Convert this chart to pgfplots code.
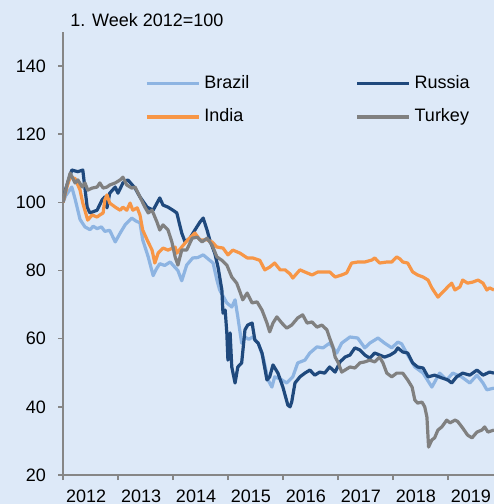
\documentclass[border=0pt]{standalone}
\usepackage{pgfplots}
\pgfplotsset{compat=1.18}
\usepackage{fontspec}
\setmainfont{Liberation Sans}

\definecolor{bgcol}{RGB}{221,233,248}
\definecolor{brazil}{RGB}{141,180,226}
\definecolor{russia}{RGB}{31,73,125}
\definecolor{india}{RGB}{247,150,70}
\definecolor{turkey}{RGB}{128,128,128}
\definecolor{axcol}{RGB}{134,134,134}

\begin{document}
\begin{tikzpicture}
\fill[bgcol] (-31.5pt,-14.5pt) rectangle (215.5pt,237.5pt);
\useasboundingbox (-31.5pt,-14.5pt) rectangle (215.5pt,237.5pt);
\begin{axis}[
    at={(0,0)}, anchor=south west,
    scale only axis, width=215.5pt, height=221.5pt,
    xmin=2012, xmax=2019.84, ymin=20, ymax=150,
    axis lines*=left,
    axis line style={axcol, line width=0.75pt},
    every tick/.style={axcol, line width=0.75pt},
    tick align=outside, major tick length=2.5pt,
    xtick={2012,...,2019}, ytick={20,40,...,140},
    xticklabel style={anchor=north west, xshift=-2pt, yshift=-1.5pt},
    yticklabel style={xshift=-2.5pt},
    x tick label style={/pgf/number format/.cd, set thousands separator={}, 1000 sep={}},
    /pgf/number format/assume math mode=true,
    tick label style={font=\fontsize{9}{11}\selectfont},
    every axis plot/.append style={line width=1.6pt, line join=round},
    legend style={draw=none, fill=none, at={(axis description cs:0.176,0.92)}, anchor=north west,
        font=\fontsize{9}{11}\selectfont, row sep=4.5pt,
        /tikz/every even column/.append style={column sep=51pt}},
    legend columns=2, legend cell align=left,
    legend image code/.code={\draw[#1] (0pt,0pt) -- (26pt,0pt);},
]
\addplot[brazil] coordinates {
(2012.00,100) (2012.05,102) (2012.16,104.5) (2012.22,101) (2012.31,95) (2012.40,92.8)
(2012.49,92) (2012.55,93) (2012.62,92.3) (2012.70,92.8) (2012.76,91.5) (2012.85,91.8)
(2012.95,88.4) (2013.04,91) (2013.13,93.4) (2013.25,95.4) (2013.33,94.5) (2013.40,94)
(2013.45,89) (2013.55,84) (2013.64,78.5) (2013.70,80.5) (2013.76,82) (2013.85,81.5)
(2013.95,82.5) (2014.09,80) (2014.16,77) (2014.25,81.6) (2014.36,83.7) (2014.45,83.8)
(2014.55,84.6) (2014.67,83) (2014.73,82.2) (2014.80,77.2) (2014.85,74.3) (2014.98,70.5)
(2015.07,69.3) (2015.13,71.4) (2015.18,66.4) (2015.25,58.7) (2015.31,60.5) (2015.38,59.8)
(2015.45,60.5) (2015.55,58.7) (2015.64,54.6) (2015.73,47.9) (2015.80,45.8) (2015.85,48.8)
(2015.95,48.2) (2016.07,47) (2016.18,48.8) (2016.27,52.9) (2016.40,53.7) (2016.49,55.8)
(2016.62,57.6) (2016.73,57.3) (2016.85,58.7) (2016.98,55.8) (2017.07,58.7) (2017.22,60.5)
(2017.36,60.2) (2017.49,57.3) (2017.58,58.7) (2017.73,60.2) (2017.85,58.7) (2017.98,57.3)
(2018.09,59) (2018.16,58.5) (2018.25,55.8) (2018.40,51.7) (2018.55,49.9) (2018.71,45.8)
(2018.85,49.9) (2018.98,47.9) (2019.09,49.9) (2019.25,48.8) (2019.40,47) (2019.53,49.3)
(2019.64,47) (2019.71,45) (2019.84,45.5)
};
\addlegendentry{Brazil}
\addplot[russia] coordinates {
(2012.00,100) (2012.05,104) (2012.16,109.5) (2012.27,109) (2012.36,109.5) (2012.40,104)
(2012.44,98.6) (2012.49,96.9) (2012.62,97.7) (2012.71,100.7) (2012.76,101.6) (2012.80,98.4)
(2012.85,102.7) (2012.95,104.5) (2013.00,102.7) (2013.09,105.7) (2013.18,106.6) (2013.31,104.2)
(2013.40,101.6) (2013.53,98.6) (2013.64,97.7) (2013.71,99.8) (2013.76,101.3) (2013.82,99.2)
(2013.91,98.6) (2014.00,97.7) (2014.07,96.9) (2014.16,91) (2014.22,88.4) (2014.31,89.5)
(2014.40,91.9) (2014.49,94.2) (2014.55,95.4) (2014.62,91.9) (2014.67,89) (2014.76,85.1)
(2014.82,81) (2014.89,74.3) (2014.91,67.5) (2014.95,68.4) (2014.98,61.7) (2015.00,53.7)
(2015.04,61.7) (2015.07,51.7) (2015.13,47) (2015.18,51.7) (2015.25,52.9) (2015.31,62.6)
(2015.36,64) (2015.44,64.6) (2015.49,59.6) (2015.55,58.7) (2015.62,55.8) (2015.71,47.9)
(2015.76,48.8) (2015.82,52.3) (2015.91,49.9) (2016.00,45.8) (2016.09,40.5) (2016.13,40)
(2016.16,41.4) (2016.22,47) (2016.31,48.8) (2016.40,49.9) (2016.49,50.8) (2016.58,49.3)
(2016.67,50.2) (2016.76,49.9) (2016.85,51.7) (2016.95,50.2) (2017.04,53.2) (2017.13,54.6)
(2017.22,55.2) (2017.31,57.3) (2017.40,56.7) (2017.49,55.2) (2017.58,54.3) (2017.67,55.8)
(2017.76,55.2) (2017.85,54.6) (2017.95,55.2) (2018.04,56.1) (2018.09,57.3) (2018.18,56.1)
(2018.27,55.8) (2018.36,52.9) (2018.45,51.7) (2018.55,51.4) (2018.64,48.8) (2018.76,49.3)
(2018.89,48.5) (2019.00,47.9) (2019.07,47) (2019.16,48.8) (2019.27,49.9) (2019.40,49.3)
(2019.53,50.8) (2019.64,49.3) (2019.76,50.2) (2019.84,49.9)
};
\addlegendentry{Russia}
\addplot[india] coordinates {
(2012.00,100) (2012.08,105) (2012.13,107.4) (2012.22,107) (2012.31,103.6) (2012.36,99.8)
(2012.45,94.8) (2012.53,96.3) (2012.62,95.7) (2012.67,96.3) (2012.73,96.9) (2012.76,100.7)
(2012.80,102.2) (2012.85,99.8) (2012.95,98.6) (2013.04,97.7) (2013.09,98.6) (2013.16,97.7)
(2013.22,99.8) (2013.27,97.7) (2013.35,98.4) (2013.40,96.3) (2013.45,91.9) (2013.53,89)
(2013.62,86) (2013.67,82.2) (2013.73,85.1) (2013.82,86.6) (2013.91,86) (2014.04,86.9)
(2014.07,85.1) (2014.16,86.9) (2014.27,89) (2014.40,91) (2014.49,89) (2014.62,89)
(2014.71,88.4) (2014.80,86.9) (2014.91,86.6) (2015.00,84.6) (2015.09,86) (2015.22,85.1)
(2015.35,83.7) (2015.45,83.7) (2015.58,83) (2015.67,80.2) (2015.76,81) (2015.85,82.2)
(2015.95,80.2) (2016.04,80.2) (2016.13,79) (2016.18,77.8) (2016.31,80.2) (2016.44,79.3)
(2016.53,78.7) (2016.64,79.6) (2016.76,79.6) (2016.85,79.6) (2016.95,78.1) (2017.07,78.7)
(2017.16,79.3) (2017.25,82.2) (2017.36,82.5) (2017.49,82.5) (2017.62,83.1) (2017.67,83.7)
(2017.76,82.2) (2017.89,82.5) (2017.98,82.5) (2018.07,84) (2018.13,83.4) (2018.18,82.5)
(2018.27,82.2) (2018.36,79.6) (2018.45,78.7) (2018.55,78.1) (2018.64,77.2) (2018.71,74.9)
(2018.82,72.2) (2018.91,73.7) (2019.00,75.2) (2019.07,76.3) (2019.13,74.3) (2019.22,75.2)
(2019.27,77.2) (2019.36,76.3) (2019.45,76.6) (2019.55,77.2) (2019.64,76.3) (2019.71,74.3)
(2019.76,74.9) (2019.84,74.3)
};
\addlegendentry{India}
\addplot[turkey] coordinates {
(2012.00,100) (2012.07,105) (2012.13,108.6) (2012.22,105.7) (2012.27,106.6) (2012.35,104.5)
(2012.40,105.7) (2012.45,103.6) (2012.53,104.2) (2012.62,104.5) (2012.67,105.7) (2012.73,104.2)
(2012.80,104.5) (2012.85,105.1) (2012.95,105.7) (2013.04,106.6) (2013.09,107.4) (2013.16,105.1)
(2013.25,104.2) (2013.31,104.5) (2013.40,101.6) (2013.49,98.6) (2013.55,96.9) (2013.62,97.7)
(2013.71,94.2) (2013.76,91.9) (2013.82,93.4) (2013.91,91.9) (2013.98,88.4) (2014.04,84)
(2014.09,81.6) (2014.16,86) (2014.25,86) (2014.35,89.5) (2014.44,89.8) (2014.53,88.4)
(2014.62,89.5) (2014.71,87.5) (2014.80,84) (2014.89,83) (2014.98,81.6) (2015.07,78.1)
(2015.16,76.3) (2015.22,73.7) (2015.27,71.4) (2015.35,73.4) (2015.44,70.5) (2015.53,70.8)
(2015.62,68.4) (2015.71,64.6) (2015.76,62) (2015.82,64.6) (2015.89,66.4) (2015.98,64.6)
(2016.07,63.1) (2016.16,64) (2016.27,66.1) (2016.36,67) (2016.44,64.6) (2016.53,64.9)
(2016.62,63.4) (2016.71,64) (2016.80,62.6) (2016.85,60.2) (2016.91,57.6) (2016.95,54.6)
(2017.00,53.2) (2017.07,50.2) (2017.13,50.8) (2017.22,51.7) (2017.31,51.4) (2017.40,52.9)
(2017.49,53.2) (2017.58,53.7) (2017.67,53.2) (2017.76,54.6) (2017.82,52.9) (2017.89,49.9)
(2017.98,48.8) (2018.07,49.9) (2018.18,49.9) (2018.27,47.9) (2018.35,45.8) (2018.40,42)
(2018.45,41.1) (2018.53,41.4) (2018.58,40) (2018.62,37) (2018.65,28.2) (2018.71,30.3)
(2018.76,30.9) (2018.82,33.2) (2018.89,34.1) (2018.98,36.1) (2019.04,35.3) (2019.13,36.1)
(2019.18,35.7) (2019.27,33.8) (2019.36,31.7) (2019.44,30.9) (2019.53,32.6) (2019.62,33.2)
(2019.67,34.1) (2019.73,32.6) (2019.84,33.2)
};
\addlegendentry{Turkey}
\end{axis}
\node[anchor=base west, inner sep=0pt, font=\fontsize{9}{11}\selectfont] at (3.5pt,224pt) {1. Week 2012=100};
\end{tikzpicture}
\end{document}
